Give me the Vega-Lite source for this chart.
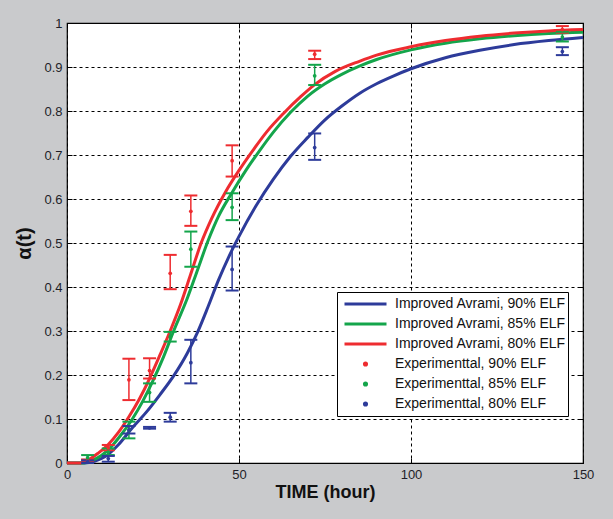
{
  "$schema": "https://vega.github.io/schema/vega-lite/v6.json",
  "width": 516,
  "height": 440,
  "autosize": "none",
  "padding": {"left": 67, "top": 23, "right": 30, "bottom": 56},
  "background": "#c9cacc",
  "config": {
    "view": {"fill": "white", "stroke": "black", "strokeWidth": 1.2},
    "axis": {
      "domain": false,
      "grid": true,
      "gridColor": "black",
      "gridOpacity": 1,
      "gridWidth": 1,
      "gridDash": [3, 3],
      "tickColor": "black",
      "tickSize": -5,
      "tickWidth": 1,
      "labelFont": "Liberation Sans",
      "labelFontSize": 13,
      "labelColor": "#1e1e28",
      "labelPadding": 10,
      "labelFlush": false,
      "labelOverlap": false,
      "titleFont": "Liberation Sans",
      "titleFontWeight": "bold",
      "titleColor": "#111111"
    },
    "legend": {
      "orient": "none",
      "legendX": 270,
      "legendY": 269,
      "fillColor": "white",
      "strokeColor": "black",
      "padding": 2,
      "symbolSize": 1764,
      "symbolStrokeWidth": 3,
      "symbolOffset": 4,
      "labelOffset": 7,
      "clipHeight": 20,
      "rowPadding": 0,
      "labelFont": "Liberation Sans",
      "labelFontSize": 14,
      "labelColor": "#111111",
      "labelLimit": 300
    }
  },
  "resolve": {"axis": {"x": "independent", "y": "independent"}},
  "datasets": {
    "curves": [
      {"t": 0, "a": 0, "series": "Improved Avrami, 90% ELF"},
      {"t": 5, "a": 0, "series": "Improved Avrami, 90% ELF"},
      {"t": 8, "a": 0.004, "series": "Improved Avrami, 90% ELF"},
      {"t": 11, "a": 0.014, "series": "Improved Avrami, 90% ELF"},
      {"t": 15, "a": 0.042, "series": "Improved Avrami, 90% ELF"},
      {"t": 19, "a": 0.08, "series": "Improved Avrami, 90% ELF"},
      {"t": 23, "a": 0.115, "series": "Improved Avrami, 90% ELF"},
      {"t": 27, "a": 0.155, "series": "Improved Avrami, 90% ELF"},
      {"t": 31, "a": 0.198, "series": "Improved Avrami, 90% ELF"},
      {"t": 35, "a": 0.25, "series": "Improved Avrami, 90% ELF"},
      {"t": 38, "a": 0.298, "series": "Improved Avrami, 90% ELF"},
      {"t": 41, "a": 0.355, "series": "Improved Avrami, 90% ELF"},
      {"t": 44, "a": 0.415, "series": "Improved Avrami, 90% ELF"},
      {"t": 47, "a": 0.468, "series": "Improved Avrami, 90% ELF"},
      {"t": 50, "a": 0.515, "series": "Improved Avrami, 90% ELF"},
      {"t": 55, "a": 0.585, "series": "Improved Avrami, 90% ELF"},
      {"t": 60, "a": 0.645, "series": "Improved Avrami, 90% ELF"},
      {"t": 65, "a": 0.697, "series": "Improved Avrami, 90% ELF"},
      {"t": 70, "a": 0.74, "series": "Improved Avrami, 90% ELF"},
      {"t": 75, "a": 0.78, "series": "Improved Avrami, 90% ELF"},
      {"t": 80, "a": 0.812, "series": "Improved Avrami, 90% ELF"},
      {"t": 85, "a": 0.84, "series": "Improved Avrami, 90% ELF"},
      {"t": 90, "a": 0.862, "series": "Improved Avrami, 90% ELF"},
      {"t": 95, "a": 0.88, "series": "Improved Avrami, 90% ELF"},
      {"t": 100, "a": 0.896, "series": "Improved Avrami, 90% ELF"},
      {"t": 110, "a": 0.921, "series": "Improved Avrami, 90% ELF"},
      {"t": 120, "a": 0.938, "series": "Improved Avrami, 90% ELF"},
      {"t": 130, "a": 0.951, "series": "Improved Avrami, 90% ELF"},
      {"t": 140, "a": 0.96, "series": "Improved Avrami, 90% ELF"},
      {"t": 150, "a": 0.967, "series": "Improved Avrami, 90% ELF"},
      {"t": 0, "a": 0, "series": "Improved Avrami, 85% ELF"},
      {"t": 5, "a": 0, "series": "Improved Avrami, 85% ELF"},
      {"t": 7, "a": 0.005, "series": "Improved Avrami, 85% ELF"},
      {"t": 10, "a": 0.017, "series": "Improved Avrami, 85% ELF"},
      {"t": 13, "a": 0.038, "series": "Improved Avrami, 85% ELF"},
      {"t": 16, "a": 0.067, "series": "Improved Avrami, 85% ELF"},
      {"t": 19, "a": 0.1, "series": "Improved Avrami, 85% ELF"},
      {"t": 22, "a": 0.14, "series": "Improved Avrami, 85% ELF"},
      {"t": 25, "a": 0.187, "series": "Improved Avrami, 85% ELF"},
      {"t": 28, "a": 0.24, "series": "Improved Avrami, 85% ELF"},
      {"t": 31, "a": 0.3, "series": "Improved Avrami, 85% ELF"},
      {"t": 35, "a": 0.375, "series": "Improved Avrami, 85% ELF"},
      {"t": 38, "a": 0.44, "series": "Improved Avrami, 85% ELF"},
      {"t": 41, "a": 0.505, "series": "Improved Avrami, 85% ELF"},
      {"t": 44, "a": 0.56, "series": "Improved Avrami, 85% ELF"},
      {"t": 48, "a": 0.615, "series": "Improved Avrami, 85% ELF"},
      {"t": 52, "a": 0.665, "series": "Improved Avrami, 85% ELF"},
      {"t": 56, "a": 0.71, "series": "Improved Avrami, 85% ELF"},
      {"t": 60, "a": 0.752, "series": "Improved Avrami, 85% ELF"},
      {"t": 65, "a": 0.797, "series": "Improved Avrami, 85% ELF"},
      {"t": 70, "a": 0.834, "series": "Improved Avrami, 85% ELF"},
      {"t": 75, "a": 0.862, "series": "Improved Avrami, 85% ELF"},
      {"t": 80, "a": 0.884, "series": "Improved Avrami, 85% ELF"},
      {"t": 85, "a": 0.902, "series": "Improved Avrami, 85% ELF"},
      {"t": 90, "a": 0.917, "series": "Improved Avrami, 85% ELF"},
      {"t": 100, "a": 0.939, "series": "Improved Avrami, 85% ELF"},
      {"t": 110, "a": 0.954, "series": "Improved Avrami, 85% ELF"},
      {"t": 120, "a": 0.964, "series": "Improved Avrami, 85% ELF"},
      {"t": 130, "a": 0.971, "series": "Improved Avrami, 85% ELF"},
      {"t": 140, "a": 0.976, "series": "Improved Avrami, 85% ELF"},
      {"t": 150, "a": 0.979, "series": "Improved Avrami, 85% ELF"},
      {"t": 0, "a": 0, "series": "Improved Avrami, 80% ELF"},
      {"t": 4, "a": 0, "series": "Improved Avrami, 80% ELF"},
      {"t": 6, "a": 0.006, "series": "Improved Avrami, 80% ELF"},
      {"t": 9, "a": 0.022, "series": "Improved Avrami, 80% ELF"},
      {"t": 12, "a": 0.042, "series": "Improved Avrami, 80% ELF"},
      {"t": 15, "a": 0.07, "series": "Improved Avrami, 80% ELF"},
      {"t": 18, "a": 0.105, "series": "Improved Avrami, 80% ELF"},
      {"t": 21, "a": 0.145, "series": "Improved Avrami, 80% ELF"},
      {"t": 24, "a": 0.192, "series": "Improved Avrami, 80% ELF"},
      {"t": 27, "a": 0.245, "series": "Improved Avrami, 80% ELF"},
      {"t": 30, "a": 0.3, "series": "Improved Avrami, 80% ELF"},
      {"t": 33, "a": 0.36, "series": "Improved Avrami, 80% ELF"},
      {"t": 36, "a": 0.43, "series": "Improved Avrami, 80% ELF"},
      {"t": 39, "a": 0.5, "series": "Improved Avrami, 80% ELF"},
      {"t": 42, "a": 0.555, "series": "Improved Avrami, 80% ELF"},
      {"t": 46, "a": 0.615, "series": "Improved Avrami, 80% ELF"},
      {"t": 50, "a": 0.665, "series": "Improved Avrami, 80% ELF"},
      {"t": 54, "a": 0.71, "series": "Improved Avrami, 80% ELF"},
      {"t": 58, "a": 0.752, "series": "Improved Avrami, 80% ELF"},
      {"t": 63, "a": 0.795, "series": "Improved Avrami, 80% ELF"},
      {"t": 68, "a": 0.833, "series": "Improved Avrami, 80% ELF"},
      {"t": 72, "a": 0.86, "series": "Improved Avrami, 80% ELF"},
      {"t": 78, "a": 0.89, "series": "Improved Avrami, 80% ELF"},
      {"t": 85, "a": 0.913, "series": "Improved Avrami, 80% ELF"},
      {"t": 90, "a": 0.927, "series": "Improved Avrami, 80% ELF"},
      {"t": 100, "a": 0.946, "series": "Improved Avrami, 80% ELF"},
      {"t": 110, "a": 0.96, "series": "Improved Avrami, 80% ELF"},
      {"t": 120, "a": 0.97, "series": "Improved Avrami, 80% ELF"},
      {"t": 130, "a": 0.977, "series": "Improved Avrami, 80% ELF"},
      {"t": 140, "a": 0.982, "series": "Improved Avrami, 80% ELF"},
      {"t": 150, "a": 0.985, "series": "Improved Avrami, 80% ELF"}
    ],
    "exp": [
      {"t": 6, "mid": 0.005, "lo": 0.002, "hi": 0.008, "series": "Experimenttal, 90% ELF"},
      {"t": 12, "mid": 0.035, "lo": 0.029, "hi": 0.041, "series": "Experimenttal, 90% ELF"},
      {"t": 18, "mid": 0.189, "lo": 0.143, "hi": 0.237, "series": "Experimenttal, 90% ELF"},
      {"t": 24, "mid": 0.21, "lo": 0.192, "hi": 0.238, "series": "Experimenttal, 90% ELF"},
      {"t": 30, "mid": 0.431, "lo": 0.395, "hi": 0.473, "series": "Experimenttal, 90% ELF"},
      {"t": 36, "mid": 0.572, "lo": 0.539, "hi": 0.608, "series": "Experimenttal, 90% ELF"},
      {"t": 48, "mid": 0.687, "lo": 0.651, "hi": 0.722, "series": "Experimenttal, 90% ELF"},
      {"t": 72, "mid": 0.929, "lo": 0.918, "hi": 0.937, "series": "Experimenttal, 90% ELF"},
      {"t": 144, "mid": 0.985, "lo": 0.978, "hi": 0.993, "series": "Experimenttal, 90% ELF"},
      {"t": 6, "mid": 0.012, "lo": 0.007, "hi": 0.018, "series": "Experimenttal, 85% ELF"},
      {"t": 12, "mid": 0.025, "lo": 0.018, "hi": 0.033, "series": "Experimenttal, 85% ELF"},
      {"t": 18, "mid": 0.075, "lo": 0.056, "hi": 0.094, "series": "Experimenttal, 85% ELF"},
      {"t": 24, "mid": 0.16, "lo": 0.139, "hi": 0.181, "series": "Experimenttal, 85% ELF"},
      {"t": 30, "mid": 0.287, "lo": 0.276, "hi": 0.298, "series": "Experimenttal, 85% ELF"},
      {"t": 36, "mid": 0.486, "lo": 0.446, "hi": 0.526, "series": "Experimenttal, 85% ELF"},
      {"t": 48, "mid": 0.581, "lo": 0.552, "hi": 0.613, "series": "Experimenttal, 85% ELF"},
      {"t": 72, "mid": 0.88, "lo": 0.859, "hi": 0.905, "series": "Experimenttal, 85% ELF"},
      {"t": 144, "mid": 0.968, "lo": 0.958, "hi": 0.98, "series": "Experimenttal, 85% ELF"},
      {"t": 6, "mid": 0.003, "lo": 0.0, "hi": 0.006, "series": "Experimenttal, 80% ELF"},
      {"t": 12, "mid": 0.01, "lo": 0.003, "hi": 0.016, "series": "Experimenttal, 80% ELF"},
      {"t": 18, "mid": 0.075, "lo": 0.067, "hi": 0.084, "series": "Experimenttal, 80% ELF"},
      {"t": 24, "mid": 0.08, "lo": 0.078, "hi": 0.082, "series": "Experimenttal, 80% ELF"},
      {"t": 30, "mid": 0.104, "lo": 0.094, "hi": 0.114, "series": "Experimenttal, 80% ELF"},
      {"t": 36, "mid": 0.228, "lo": 0.181, "hi": 0.28, "series": "Experimenttal, 80% ELF"},
      {"t": 48, "mid": 0.44, "lo": 0.392, "hi": 0.492, "series": "Experimenttal, 80% ELF"},
      {"t": 72, "mid": 0.717, "lo": 0.689, "hi": 0.749, "series": "Experimenttal, 80% ELF"},
      {"t": 144, "mid": 0.935, "lo": 0.927, "hi": 0.945, "series": "Experimenttal, 80% ELF"}
    ]
  },
  "layer": [
    {
      "data": {"name": "curves"},
      "mark": {"type": "line", "strokeWidth": 3, "interpolate": "monotone"},
      "encoding": {
        "x": {
          "field": "t", "type": "quantitative",
          "scale": {"domain": [0, 150], "nice": false},
          "axis": {"orient": "bottom", "values": [0, 50, 100, 150], "title": "TIME (hour)", "titleFontSize": 18, "titlePadding": 2}
        },
        "y": {
          "field": "a", "type": "quantitative",
          "scale": {"domain": [0, 1], "nice": false},
          "axis": {"orient": "left", "values": [0, 0.1, 0.2, 0.3, 0.4, 0.5, 0.6, 0.7, 0.8, 0.9, 1], "format": "~g", "title": "α(t)", "titleFontSize": 20, "titlePadding": 9}
        },
        "color": {
          "field": "series", "type": "nominal",
          "scale": {
            "domain": ["Improved Avrami, 90% ELF", "Improved Avrami, 85% ELF", "Improved Avrami, 80% ELF", "Experimenttal, 90% ELF", "Experimenttal, 85% ELF", "Experimenttal, 80% ELF"],
            "range": ["#2d3b9a", "#14a54b", "#ee2c30", "#ee2c30", "#14a54b", "#2d3b9a"]
          },
          "legend": {
            "title": null,
            "encode": {
              "symbols": {
                "update": {
                  "shape": {"signal": "indexof(datum.label, 'Improved') === 0 ? 'stroke' : 'M-0.05,0A0.05,0.05 0 1,0 0.05,0A0.05,0.05 0 1,0 -0.05,0Z'"},
                  "stroke": {"scale": "color", "field": "value"},
                  "fill": {"scale": "color", "field": "value"},
                  "opacity": {"value": 1}
                }
              }
            }
          }
        }
      }
    },
    {
      "data": {"name": "exp"},
      "mark": {"type": "rule", "strokeWidth": 1.5},
      "encoding": {
        "x": {"field": "t", "type": "quantitative", "axis": {"orient": "top", "values": [0, 50, 100, 150], "labels": false, "grid": false, "title": null}},
        "y": {"field": "lo", "type": "quantitative", "axis": {"orient": "right", "values": [0, 0.1, 0.2, 0.3, 0.4, 0.5, 0.6, 0.7, 0.8, 0.9, 1], "labels": false, "grid": false, "title": null}},
        "y2": {"field": "hi"},
        "color": {"field": "series", "type": "nominal"}
      }
    },
    {
      "data": {"name": "exp"},
      "mark": {"type": "tick", "orient": "horizontal", "size": 13, "thickness": 2, "opacity": 1},
      "encoding": {
        "x": {"field": "t", "type": "quantitative", "axis": null},
        "y": {"field": "lo", "type": "quantitative", "axis": null},
        "color": {"field": "series", "type": "nominal"}
      }
    },
    {
      "data": {"name": "exp"},
      "mark": {"type": "tick", "orient": "horizontal", "size": 13, "thickness": 2, "opacity": 1},
      "encoding": {
        "x": {"field": "t", "type": "quantitative", "axis": null},
        "y": {"field": "hi", "type": "quantitative", "axis": null},
        "color": {"field": "series", "type": "nominal"}
      }
    },
    {
      "data": {"name": "exp"},
      "mark": {"type": "point", "filled": true, "size": 14, "opacity": 1},
      "encoding": {
        "x": {"field": "t", "type": "quantitative", "axis": null},
        "y": {"field": "mid", "type": "quantitative", "axis": null},
        "color": {"field": "series", "type": "nominal"}
      }
    }
  ]
}
